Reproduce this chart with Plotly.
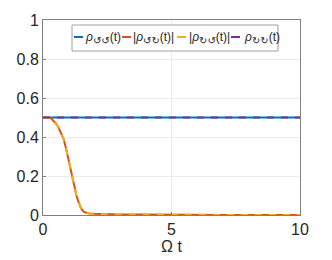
import plotly.graph_objects as go

# Data
t_vals = [0, 0.3, 0.5, 0.6, 0.7, 0.8, 0.9, 1.0, 1.1, 1.2, 1.3, 1.4, 1.5, 1.6, 1.7, 1.8, 2.0, 2.5, 3.0, 4.0, 5.0, 7.0, 10.0]
rho_aa = [0.5] * len(t_vals)
rho_ab = [0.5, 0.497, 0.47, 0.45, 0.42, 0.39, 0.34, 0.28, 0.21, 0.15, 0.10, 0.06, 0.03, 0.015, 0.01, 0.008, 0.006, 0.004, 0.003, 0.002, 0.001, 0.0005, 0.0]
rho_ba = list(rho_ab)
rho_bb = [0.5] * len(t_vals)

subs = ["↺↺", "↺↻", "↻↺", "↻↻"]
SUB = '<sub><span style="font-size:10px;font-family:DejaVu Sans">{}</span></sub>'
labels = ["<i>ρ</i>" + SUB.format(subs[0]) + "(t)",
          "|<i>ρ</i>" + SUB.format(subs[1]) + "(t)|",
          "|<i>ρ</i>" + SUB.format(subs[2]) + "(t)|",
          "<i>ρ</i>" + SUB.format(subs[3]) + "(t)"]
colors = ["#0072BD", "#D95319", "#EDB120", "#7E2F8E"]

x_ticks = [0, 5, 10]
y_ticks = [0, 0.2, 0.4, 0.6, 0.8, 1]

fig = go.Figure()
fig.add_trace(go.Scatter(x=t_vals, y=rho_aa, mode="lines", line=dict(color=colors[0], width=2), showlegend=False))
fig.add_trace(go.Scatter(x=t_vals, y=rho_ab, mode="lines", line=dict(color=colors[1], width=2), showlegend=False))
fig.add_trace(go.Scatter(x=t_vals, y=rho_ba, mode="lines", line=dict(color=colors[2], width=2, dash="7px,7px"), showlegend=False))
fig.add_trace(go.Scatter(x=t_vals, y=rho_bb, mode="lines", line=dict(color=colors[3], width=2, dash="7px,7px"), showlegend=False))

# Manual compact legend (MATLAB style)
L, R, T, B = 43, 300, 20, 215
W, H = R - L, B - T
def px(x):
    return (x - L) / W
def py(y):
    return (B - y) / H

shapes = [dict(type="rect", xref="paper", yref="paper", x0=px(72), x1=px(278), y0=py(51), y1=py(25),
               line=dict(color="#A0A0A0", width=1), fillcolor="white", layer="above")]
annotations = []
line_starts = [74, 122, 177, 231]
text_starts = [85, 133, 189, 244]
for i in range(4):
    shapes.append(dict(type="line", xref="paper", yref="paper", x0=px(line_starts[i]), x1=px(line_starts[i] + 9),
                       y0=py(37), y1=py(37), line=dict(color=colors[i], width=2), layer="above"))
    annotations.append(dict(x=px(text_starts[i]), y=py(38), xref="paper", yref="paper", text=labels[i],
                            showarrow=False, xanchor="left", yanchor="middle", xshift=-2,
                            font=dict(size=12, color="#262626", family="Liberation Sans, Arial")))

fig.update_layout(
    width=332, height=260,
    margin=dict(l=L, r=332 - R, t=T, b=260 - B),
    plot_bgcolor="white", paper_bgcolor="white",
    font=dict(family="Liberation Sans, Arial", size=16, color="#262626"),
    shapes=shapes, annotations=annotations,
    xaxis=dict(range=[0, 10], tickvals=x_ticks, showgrid=True, gridcolor="#EBEBEB",
               showline=True, linecolor="#808080", mirror=True, zeroline=False, automargin=False,
               ticks="inside", ticklen=3, tickcolor="#808080",
               title=dict(text="Ω t", standoff=2, font=dict(size=16))),
    yaxis=dict(range=[0, 1], tickvals=y_ticks, ticktext=["0", "0.2", "0.4", "0.6", "0.8", "1"],
               showgrid=True, gridcolor="#EBEBEB", automargin=False,
               showline=True, linecolor="#808080", mirror=True, zeroline=False,
               ticks="inside", ticklen=3, tickcolor="#808080"),
)
fig.write_html("out.html", config={"displayModeBar": False},
               post_script="document.body.style.margin='0';document.body.style.overflow='hidden';")
